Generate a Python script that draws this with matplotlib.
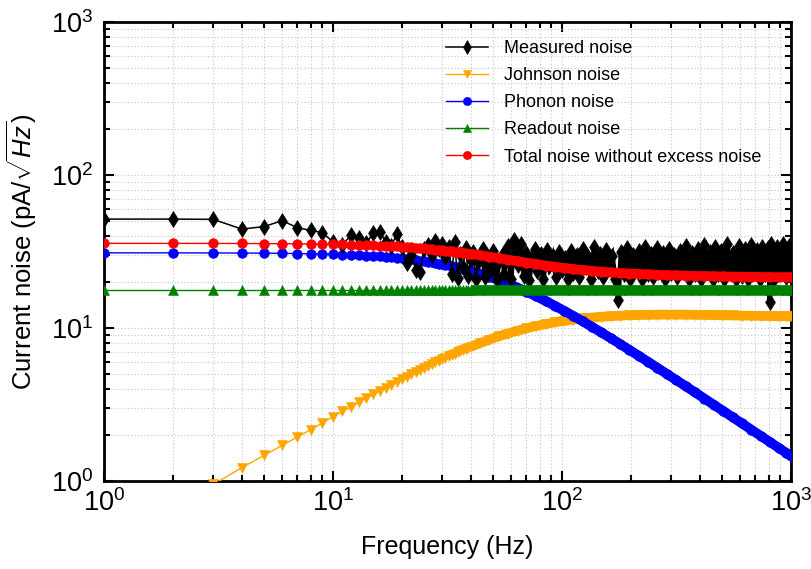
import matplotlib
matplotlib.use("Agg")
import matplotlib.pyplot as plt
from matplotlib.ticker import LogLocator, NullFormatter

plt.rcParams["font.family"] = ["Liberation Sans", "DejaVu Sans"]
plt.rcParams["mathtext.fontset"] = "custom"
plt.rcParams["mathtext.rm"] = "Liberation Sans"
plt.rcParams["mathtext.it"] = "Liberation Sans:italic"
plt.rcParams["mathtext.bf"] = "Liberation Sans:bold"
plt.rcParams["mathtext.sf"] = "Liberation Sans"

# ---------------- data ----------------
# model curves: frequency grid (Hz)
freq_model = list(range(1, 41)) + [
    44, 48, 53, 58, 64, 70, 77, 85, 93, 102, 112, 123, 135, 148, 163, 179,
    197, 216, 238, 261, 287, 316, 347, 381, 419, 460, 506, 556, 611, 672,
    738, 811, 891, 950, 1000]

johnson = [
    0.38, 0.68, 0.95, 1.22, 1.47, 1.71, 1.94, 2.17, 2.40, 2.63,
    2.85, 3.06, 3.27, 3.48, 3.68, 3.88, 4.07, 4.26, 4.45, 4.63,
    4.81, 4.98, 5.15, 5.32, 5.48, 5.64, 5.80, 5.95, 6.10, 6.25,
    6.39, 6.53, 6.67, 6.80, 6.93, 7.06, 7.18, 7.30, 7.42, 7.54,
    7.98, 8.38, 8.82, 9.20, 9.60, 9.95, 10.30, 10.62, 10.89, 11.13,
    11.35, 11.54, 11.70, 11.83, 11.94, 12.03, 12.10, 12.15, 12.19, 12.21,
    12.22, 12.22, 12.21, 12.19, 12.17, 12.14, 12.11, 12.08, 12.05, 12.02,
    11.99, 11.96, 11.93, 11.91, 11.89]

phonon = [
    30.99, 30.97, 30.94, 30.89, 30.83, 30.75, 30.66, 30.56, 30.45, 30.32,
    30.18, 30.04, 29.88, 29.71, 29.53, 29.34, 29.15, 28.95, 28.74, 28.52,
    28.30, 28.08, 27.84, 27.61, 27.37, 27.13, 26.88, 26.63, 26.38, 26.13,
    25.88, 25.62, 25.37, 25.12, 24.86, 24.61, 24.36, 24.11, 23.86, 23.61,
    22.63, 21.69, 20.57, 19.52, 18.35, 17.28, 16.15, 15.00, 13.98, 12.97,
    12.00, 11.06, 10.19, 9.385, 8.590, 7.873, 7.193, 6.591, 6.006, 5.494,
    5.009, 4.559, 4.162, 3.796, 3.455, 3.150, 2.867, 2.612, 2.378, 2.163,
    1.970, 1.794, 1.633, 1.532, 1.456]

readout = [17.8] * len(freq_model)

total = [
    35.74, 35.73, 35.71, 35.67, 35.63, 35.57, 35.51, 35.43, 35.35, 35.26,
    35.15, 35.05, 34.93, 34.81, 34.68, 34.54, 34.40, 34.25, 34.10, 33.94,
    33.78, 33.62, 33.44, 33.28, 33.11, 32.93, 32.76, 32.58, 32.40, 32.23,
    32.05, 31.87, 31.70, 31.53, 31.35, 31.18, 31.01, 30.85, 30.68, 30.51,
    29.88, 29.28, 28.60, 27.97, 27.31, 26.73, 26.15, 25.59, 25.12, 24.68,
    24.28, 23.92, 23.61, 23.34, 23.09, 22.88, 22.69, 22.54, 22.39, 22.27,
    22.16, 22.07, 21.98, 21.90, 21.84, 21.78, 21.72, 21.67, 21.63, 21.59,
    21.55, 21.52, 21.49, 21.47, 21.45]

# measured spectrum
freq_meas = list(range(1, 44)) + [
    45, 46, 47, 49, 50, 52, 53, 55, 56, 58, 60, 62, 64, 66, 68, 70, 72, 74,
    76, 78, 81, 83, 86, 88, 91, 94, 97, 100, 103, 106, 109, 112, 116, 119,
    123, 127, 130, 134, 138, 143, 147, 151, 156, 161, 166, 171, 176, 181,
    187, 192, 198, 204, 210, 217, 223, 230, 237, 244, 251, 259, 267, 275,
    283, 292, 300, 309, 319, 328, 338, 348, 359, 370, 381, 392, 404, 416,
    429, 441, 455, 468, 482, 497, 512, 527, 543, 559, 576, 593, 611, 629,
    648, 668, 688, 708, 730, 751, 774, 797, 809, 821, 846, 871, 897, 924,
    952, 980, 1000]

measured = [
    51.5, 51.5, 51.3, 44.3, 46.0, 50.3, 45.2, 43.5, 42.0, 36.5,
    35.0, 40.5, 38.6, 36.0, 41.8, 42.6, 36.6, 34.5, 41.0, 34.0,
    26.5, 30.0, 24.0, 23.3, 33.0, 35.0, 30.0, 37.2, 33.0, 35.5,
    29.0, 34.0, 22.5, 36.5, 21.2, 30.5, 25.0, 33.5, 22.0, 28.0,
    31.5, 20.8, 27.0,
    33.0, 21.5, 29.5, 24.0, 32.0, 20.5, 27.5, 30.5, 22.5, 34.5,
    21.0, 37.5, 26.0, 35.5, 22.0, 31.0, 20.5, 29.0, 33.0, 23.5,
    30.5, 21.0, 32.5, 25.5, 29.5, 21.5, 31.5, 24.0, 28.5, 21.0,
    32.0, 23.0, 30.0, 21.5, 33.0, 25.0, 29.0, 21.0, 34.0, 23.5,
    30.5, 21.5, 32.5, 26.0, 29.5, 21.0, 15.2, 31.5, 22.5, 33.5,
    21.0, 30.0, 24.5, 32.0, 21.0, 34.0, 22.5, 30.5, 21.5, 33.5,
    25.0, 31.0, 21.0, 33.0, 23.0, 30.0, 21.5, 32.0, 24.0, 34.5,
    21.0, 31.0, 22.5, 33.0, 21.0, 35.0, 24.5, 31.5, 21.0, 34.0,
    22.5, 32.0, 21.0, 35.5, 23.5, 31.0, 21.0, 34.5, 22.0, 33.0,
    21.0, 35.0, 23.5, 32.5, 21.0, 34.0, 22.5, 33.5, 14.8, 35.5,
    21.0, 34.0, 23.0, 35.5, 21.5, 34.5, 25.0]

labels = ["Measured noise", "Johnson noise", "Phonon noise",
          "Readout noise", "Total noise without excess noise"]

# ---------------- figure ----------------
fig = plt.figure(figsize=(8.11, 5.69), dpi=100)
ax = fig.add_axes([0.1282, 0.1547, 0.8471, 0.8066])

ms = 7.0
band_from = 40  # above this the markers merge into a continuous band

h_meas, = ax.plot(freq_meas, measured, color="black", lw=1.1, marker="d",
                  ms=7.8, mew=0.4, mec="black", zorder=4)
# densely sampled part: heavier trace so the points merge into one mass
dense_f = [f for f in freq_meas if f >= 44]
dense_v = [v for f, v in zip(freq_meas, measured) if f >= 44]
ax.plot(dense_f, dense_v, color="black", lw=3.4, solid_joinstyle="miter",
        zorder=4)


def model(values, color, marker, z):
    h, = ax.plot(freq_model, values, color=color, lw=1.0, marker=marker,
                 ms=ms, mew=0.4, mec=color, zorder=z)
    fx = [f for f in freq_model if f >= band_from]
    fy = [v for f, v in zip(freq_model, values) if f >= band_from]
    ax.plot(fx, fy, color=color, lw=ms, solid_capstyle="butt",
            solid_joinstyle="round", zorder=z)
    return h


h_j = model(johnson, "#FFA500", "v", 3)
h_p = model(phonon, "#0000FF", "o", 3.5)
h_r = model(readout, "#008000", "^", 5)
h_t = model(total, "#FF0000", "o", 6)

ax.set_xscale("log")
ax.set_yscale("log")
ax.set_xlim(1, 1000)
ax.set_ylim(1, 1000)

for axis in (ax.xaxis, ax.yaxis):
    axis.set_major_locator(LogLocator(base=10, numticks=10))
    axis.set_minor_locator(LogLocator(base=10, subs=range(2, 10), numticks=20))
    axis.set_minor_formatter(NullFormatter())

ax.grid(which="both", color="#c4c4c4", linestyle=(0, (1, 2)), lw=0.8)
ax.set_axisbelow(True)

ax.tick_params(which="both", direction="in", top=True, right=True,
               width=1.5, labelsize=19.5)
ax.tick_params(which="major", length=7)
ax.tick_params(which="minor", length=4.5)
ax.tick_params(axis="x", pad=6)
ax.tick_params(axis="y", pad=8)
for s in ax.spines.values():
    s.set_linewidth(2.0)

ax.set_xlabel("Frequency (Hz)", fontsize=18)
ax.set_ylabel(r"Current noise (pA/$\sqrt{Hz}$)", fontsize=18.5)
ax.xaxis.set_label_coords(0.5, -0.118)
ax.yaxis.set_label_coords(-0.095, 0.5)

leg = ax.legend([h_meas, h_j, h_p, h_r, h_t], labels, loc="upper left",
                bbox_to_anchor=(0.48, 0.988), frameon=False, fontsize=13,
                handlelength=2.3, handletextpad=0.9, labelspacing=0.56,
                markerscale=0.85, borderpad=0.2)

fig.savefig("out.png", dpi=100)
